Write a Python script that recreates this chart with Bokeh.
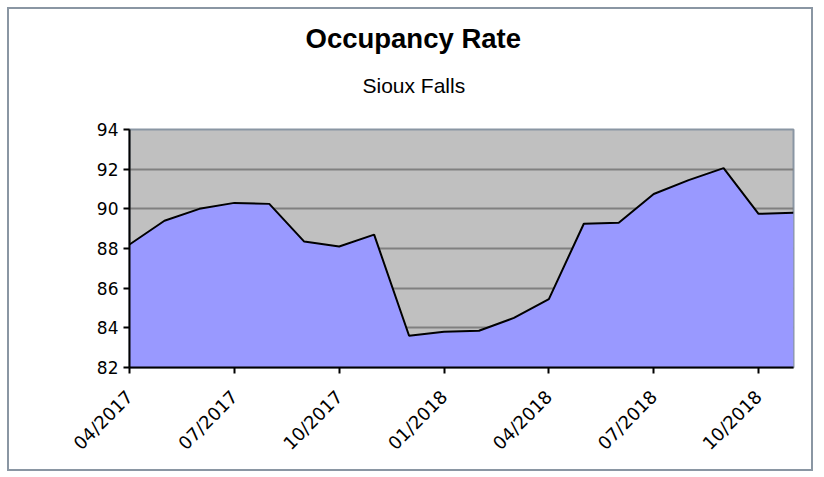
from math import pi
from bokeh.plotting import figure
from bokeh.models import Range1d, FixedTicker, Title
from bokeh.embed import file_html
from bokeh.resources import INLINE

months = ["04/2017", "05/2017", "06/2017", "07/2017", "08/2017", "09/2017",
          "10/2017", "11/2017", "12/2017", "01/2018", "02/2018", "03/2018",
          "04/2018", "05/2018", "06/2018", "07/2018", "08/2018", "09/2018",
          "10/2018", "11/2018"]
occupancy = [88.2, 89.4, 90.0, 90.3, 90.25, 88.35, 88.1, 88.7, 83.6, 83.8,
             83.85, 84.5, 85.45, 89.25, 89.3, 90.75, 91.45, 92.05, 89.75, 89.8]
y_ticks = [82, 84, 86, 88, 90, 92, 94]
x_tick_every = 3

title_text = "Occupancy Rate"
subtitle_text = "Sioux Falls"

xs = list(range(len(months)))
ymin = y_ticks[0]

p = figure(width=806, height=464, output_backend="svg", toolbar_location=None,
           x_range=Range1d(0, len(months) - 1), y_range=Range1d(y_ticks[0], y_ticks[-1]),
           min_border_left=120, min_border_right=22, min_border_top=120, min_border_bottom=106)

p.background_fill_color = "#c0c0c0"
p.border_fill_color = "white"
p.outline_line_color = "#8a96a3"
p.outline_line_width = 2

p.varea(x=xs, y1=[ymin] * len(xs), y2=occupancy, fill_color="#9999ff")
p.line(x=xs, y=occupancy, line_color="black", line_width=2)

p.xgrid.visible = False
p.ygrid.grid_line_color = "#808080"
p.ygrid.grid_line_width = 2
p.ygrid.ticker = FixedTicker(ticks=y_ticks)

tick_idx = xs[::x_tick_every]
p.xaxis.ticker = FixedTicker(ticks=tick_idx)
p.xaxis.major_label_overrides = {i: months[i] for i in tick_idx}
p.xaxis.major_label_orientation = pi / 4
p.yaxis.ticker = FixedTicker(ticks=y_ticks)

for ax in (p.xaxis[0], p.yaxis[0]):
    ax.axis_line_color = "black"
    ax.axis_line_width = 2
    ax.major_tick_line_color = "black"
    ax.major_tick_line_width = 2
    ax.major_tick_out = 6
    ax.major_tick_in = 0
    ax.minor_tick_line_color = None
    ax.major_label_text_font = "DejaVu Sans"
    ax.major_label_text_font_size = "17px"
    ax.major_label_text_color = "black"
p.xaxis.major_label_text_font_size = "18px"
p.yaxis.major_label_standoff = 5
p.xaxis.major_label_standoff = 20

sub = Title(text=subtitle_text, align="left", offset=233, text_font="Liberation Sans",
            text_font_size="21px", text_font_style="normal", text_color="black",
            standoff=66)
p.add_layout(sub, "above")
p.title.text = title_text
p.title.align = "left"
p.title.offset = 176
p.title.text_font = "Liberation Sans"
p.title.text_font_style = "bold"
p.title.text_font_size = "27.5px"
p.title.text_color = "black"
p.title.standoff = -31

p.styles = {"border": "2px solid #8a96a3", "margin-left": "7px", "margin-top": "7px"}

open("out.html", "w").write(file_html(p, INLINE))
